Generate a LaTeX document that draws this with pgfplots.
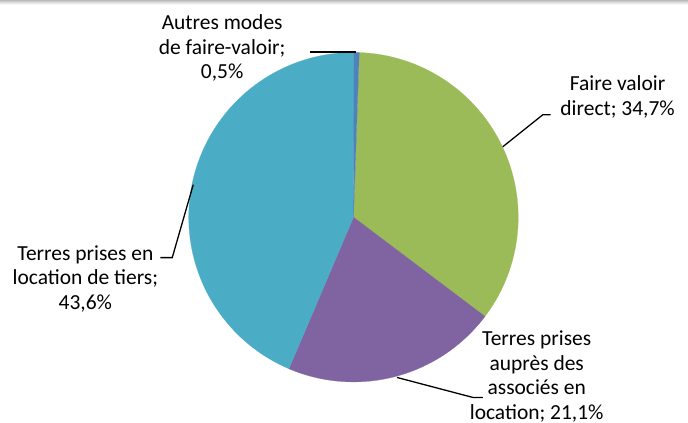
\documentclass[border=0pt]{standalone}
\usepackage{pgfplots}
\pgfplotsset{compat=1.18}
\usepackage{fontspec}
\setmainfont{Carlito}
\definecolor{cgreen}{HTML}{9BBB59}
\definecolor{cpurple}{HTML}{8064A2}
\definecolor{caqua}{HTML}{4BACC6}
\definecolor{cblue}{HTML}{4F81BD}
% data (percent)
\def\vA{34.7}% Faire valoir direct
\def\vB{21.1}% Terres prises aupres des associes en location
\def\vC{43.6}% Terres prises en location de tiers
\def\vD{0.5}%  Autres modes de faire-valoir
\pgfmathsetmacro\tot{\vA+\vB+\vC+\vD}
\pgfmathsetmacro\aO{88}
\pgfmathsetmacro\aA{\aO-360*\vA/\tot}
\pgfmathsetmacro\aB{\aA-360*\vB/\tot}
\pgfmathsetmacro\aC{\aB-360*\vC/\tot}
\pgfmathsetmacro\aD{\aC-360*\vD/\tot}
\newcommand{\slice}[3]{%
\addplot[fill=#1, draw=#1, line width=0.2pt, samples at={-1,0,...,121}, variable=\t]
 ({353.5+165*(\t>=0)*(\t<=120)*cos(#2+(#3-#2)*max(0,min(120,\t))/120)},
  {217.5-165*(\t>=0)*(\t<=120)*sin(#2+(#3-#2)*max(0,min(120,\t))/120)});}
\tikzset{lbl/.style={font=\fontsize{21.5}{24.6}\selectfont, align=center, text=black, inner sep=0pt}}
\begin{document}
\begin{tikzpicture}
\begin{axis}[scale only axis, width=688pt, height=431pt,
  xmin=0, xmax=688, ymin=0, ymax=431, y dir=reverse, hide axis, clip=false]
% top gray band
\addplot[gray!55, line width=1pt] coordinates {(0,0.5) (688,0.5)};
\addplot[gray!40, line width=1pt] coordinates {(0,1.5) (688,1.5)};
\addplot[gray!28, line width=1pt] coordinates {(0,2.5) (688,2.5)};
\addplot[gray!16, line width=1pt] coordinates {(0,3.5) (688,3.5)};
\addplot[gray!7, line width=1pt] coordinates {(0,4.5) (688,4.5)};
% slices
\slice{cgreen}{\aO}{\aA}
\slice{cpurple}{\aA}{\aB}
\slice{caqua}{\aB}{\aC}
\slice{cblue}{\aC}{\aD}
% leader lines
\addplot[black, line width=1.3pt] coordinates {(310,52) (356,52)};
\addplot[black, line width=1.3pt] coordinates {(503,147) (543,115) (551,115)};
\addplot[black, line width=1.3pt] coordinates {(193,185) (172,258) (160,258)};
\addplot[black, line width=1.3pt] coordinates {(397,378) (473,398) (483,398)};
% labels
\node[lbl] at (axis cs:222,48) {Autres modes\\de faire-valoir;\\0,5\%};
\node[lbl] at (axis cs:618,97) {Faire valoir\\direct; 34,7\%};
\node[lbl] at (axis cs:85,279) {Terres prises en\\location de tiers;\\43,6\%};
\node[lbl] at (axis cs:537,377) {Terres prises\\auprès des\\associés en\\location; 21,1\%};
\end{axis}
\end{tikzpicture}
\end{document}
